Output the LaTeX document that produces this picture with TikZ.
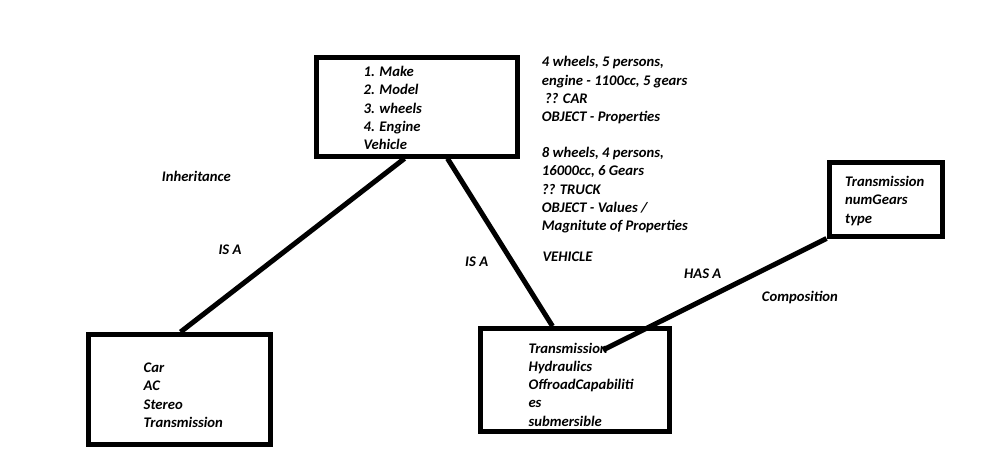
\documentclass[tikz,border=0pt]{standalone}
\usepackage{fontspec}
\setmainfont{Carlito}
\begin{document}
\begin{tikzpicture}[x=1pt,y=-1pt,
  box/.style={draw,line width=5pt,inner sep=0pt,rectangle},
  conn/.style={line width=5pt},
  txt/.style={inner sep=0pt,anchor=base west,align=left,
    font=\fontsize{14.67}{18.2}\selectfont\bfseries\itshape}]
\useasboundingbox (0,0) rectangle (1000,448);
% boxes
\node[box,minimum width=201pt,minimum height=98.5pt] (veh) at (417,106.75) {};
\node[box,minimum width=182pt,minimum height=110pt] (car) at (179,389.5) {};
\node[box,minimum width=189pt,minimum height=102.6pt] (truck) at (574.5,380) {};
\node[box,minimum width=113.5pt,minimum height=73.5pt] (trans) at (885.75,199.25) {};
% box texts (anchored at the baseline of the last line)
\node[txt] (vehtxt) at (363.5,149.5) {1. Make\\2. Model\\3. wheels\\4. Engine\\Vehicle};
\node[txt] (cartxt) at (143.5,427.3) {Car\\AC\\Stereo\\Transmission};
\node[txt] (trucktxt) at (528.3,426) {Transmission\\Hydraulics\\OffroadCapabiliti\\es\\submersible};
\node[txt] (transtxt) at (845,223) {Transmission\\numGears\\type};
% notes
\node[txt] (objcar) at (541.7,121.5) {4 wheels, 5 persons,\\engine - 1100cc, 5 gears\\\hspace{3pt}?? CAR\\OBJECT - Properties};
\node[txt] (objtruck) at (541.7,230.5) {8 wheels, 4 persons,\\16000cc, 6 Gears\\?? TRUCK\\OBJECT - Values /\\Magnitute of Properties};
\node[txt] (vehicle) at (542.3,261.7) {VEHICLE};
\node[txt] (inh) at (161.7,181.7) {Inheritance};
\node[txt] (isa1) at (218.3,254.3) {IS A};
\node[txt] (isa2) at (465,266.7) {IS A};
\node[txt] (hasa) at (684,278.3) {HAS A};
\node[txt] (comp) at (761.7,301.7) {Composition};
% connectors
\coordinate (tend) at (603,350);
\draw[conn] ([xshift=90.5pt]veh.south west) -- ([xshift=95pt]car.north west);
\draw[conn] ([xshift=133.5pt]veh.south west) -- ([xshift=75pt]truck.north west);
\draw[conn] (trans.south west) -- (tend);
\end{tikzpicture}
\end{document}
